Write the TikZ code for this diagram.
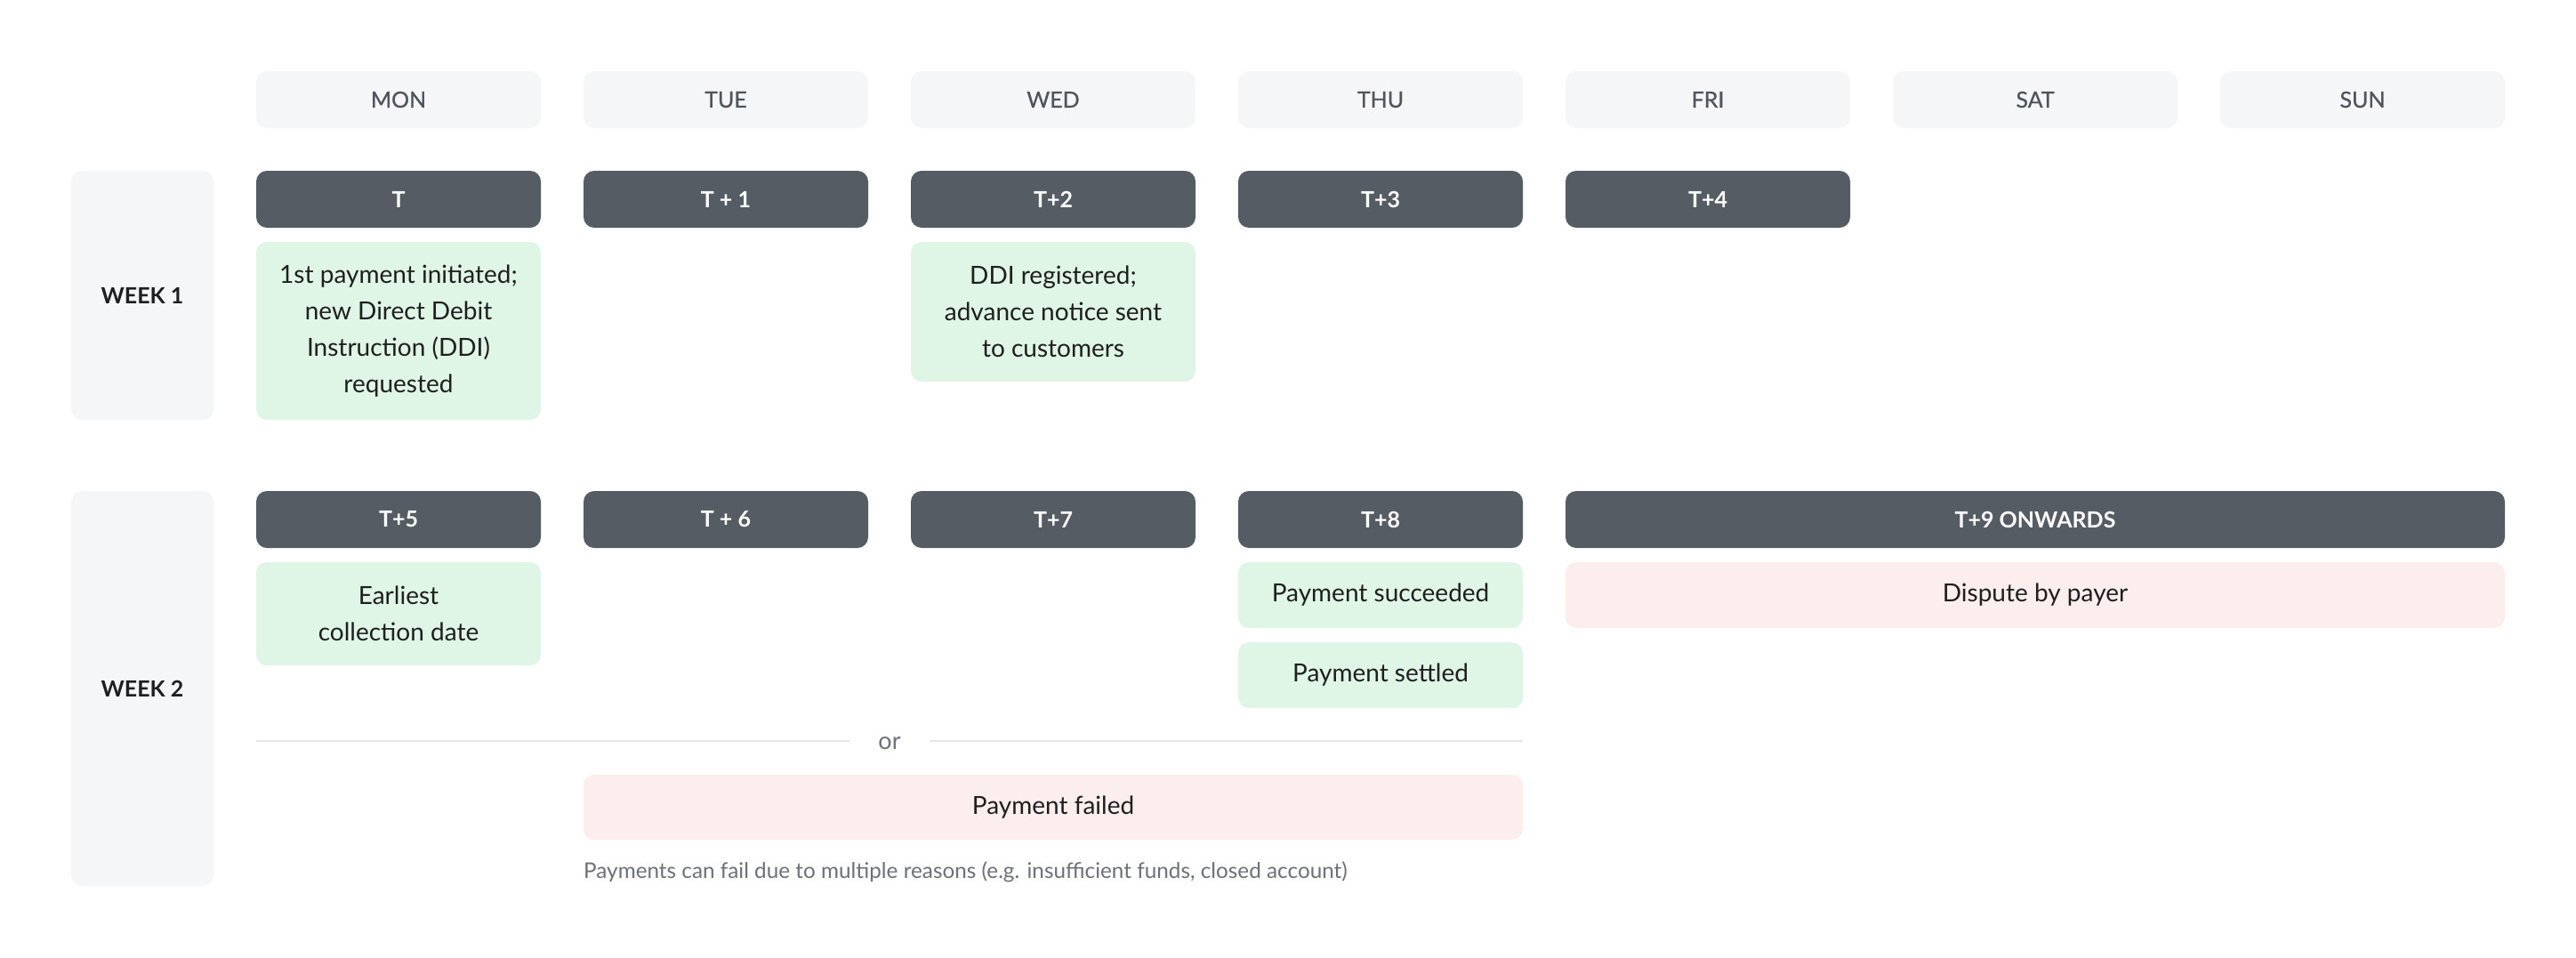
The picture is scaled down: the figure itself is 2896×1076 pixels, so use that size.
\documentclass[tikz,border=0pt]{standalone}
\usepackage{fontspec}
\setmainfont{Lato}
\newfontfamily\medfont[FakeBold=0.7]{Lato}
\definecolor{hdrfill}{HTML}{F5F6F8}
\definecolor{hdrtext}{HTML}{4F555C}
\definecolor{darkfill}{HTML}{555C64}
\definecolor{greenfill}{HTML}{DFF5E6}
\definecolor{pinkfill}{HTML}{FDEEEE}
\definecolor{bodytext}{HTML}{1F1F1F}
\definecolor{graytext}{HTML}{6B7079}
\definecolor{linegray}{HTML}{E6E7EA}
\newcommand{\cellbox}[7]{%
  \node[#6, minimum width={#4-#2}, minimum height={#5-#3}] (#1) at ({(#2+#4)/2},{-(#3+#5)/2}) {#7};%
}
\tikzset{
  base/.style={rounded corners=12pt, inner sep=0pt, align=center, draw=none},
  dayhdr/.style={base, fill=hdrfill, text=hdrtext, font={\medfont\fontsize{25}{30}\selectfont}},
  weeklbl/.style={base, fill=hdrfill, text=bodytext, font={\bfseries\fontsize{25}{30}\selectfont}},
  tday/.style={base, fill=darkfill, text=white, font={\bfseries\fontsize{25}{30}\selectfont}},
  okbox/.style={base, fill=greenfill, text=bodytext, font={\fontsize{28}{41}\selectfont}},
  badbox/.style={base, fill=pinkfill, text=bodytext, font={\fontsize{28}{41}\selectfont}},
  ortext/.style={inner sep=0pt, minimum width=90pt, text=graytext, font={\fontsize{27}{30}\selectfont}},
  note/.style={inner sep=0pt, anchor=west, text=graytext, font={\fontsize{24.3}{29}\selectfont}},
  sepline/.style={draw=linegray, line width=2.5pt}
}
\begin{document}
\begin{tikzpicture}[x=1pt,y=1pt]
\fill[white] (0,0) rectangle (2896,-1076);
\useasboundingbox (0,0) rectangle (2896,-1076);
% day headers
\cellbox{mon}{288}{80}{608}{144}{dayhdr}{MON}
\cellbox{tue}{656}{80}{976}{144}{dayhdr}{TUE}
\cellbox{wed}{1024}{80}{1344}{144}{dayhdr}{WED}
\cellbox{thu}{1392}{80}{1712}{144}{dayhdr}{THU}
\cellbox{fri}{1760}{80}{2080}{144}{dayhdr}{FRI}
\cellbox{sat}{2128}{80}{2448}{144}{dayhdr}{SAT}
\cellbox{sun}{2496}{80}{2816}{144}{dayhdr}{SUN}
% week 1
\cellbox{wk1}{80}{192}{240}{472}{weeklbl}{WEEK 1}
\cellbox{t0}{288}{192}{608}{256}{tday}{T}
\cellbox{t1}{656}{192}{976}{256}{tday}{T + 1}
\cellbox{t2}{1024}{192}{1344}{256}{tday}{T+2}
\cellbox{t3}{1392}{192}{1712}{256}{tday}{T+3}
\cellbox{t4}{1760}{192}{2080}{256}{tday}{T+4}
\cellbox{initiated}{288}{272}{608}{472}{okbox}{1st payment initiated;\\new Direct Debit\\Instruction (DDI)\\requested}
\cellbox{registered}{1024}{272}{1344}{429}{okbox}{DDI registered;\\advance notice sent\\to customers}
% week 2
\cellbox{wk2}{80}{552}{240}{996}{weeklbl}{WEEK 2}
\cellbox{t5}{288}{552}{608}{616}{tday}{T+5}
\cellbox{t6}{656}{552}{976}{616}{tday}{T + 6}
\cellbox{t7}{1024}{552}{1344}{616}{tday}{T+7}
\cellbox{t8}{1392}{552}{1712}{616}{tday}{T+8}
\cellbox{t9}{1760}{552}{2816}{616}{tday}{T+9 ONWARDS}
\cellbox{earliest}{288}{632}{608}{748}{okbox}{Earliest\\collection date}
\cellbox{succeeded}{1392}{632}{1712}{706}{okbox}{Payment succeeded}
\cellbox{settled}{1392}{722}{1712}{796}{okbox}{Payment settled}
\cellbox{dispute}{1760}{632}{2816}{706}{badbox}{Dispute by payer}
% or separator
\node[ortext] (or) at (1000,-836) {or};
\coordinate (lineL) at (288,-833);
\coordinate (lineR) at (1712,-833);
\draw[sepline] (lineL) -- (lineL -| or.west);
\draw[sepline] (lineR -| or.east) -- (lineR);
\cellbox{failed}{656}{871}{1712}{944}{badbox}{Payment failed}
\node[note] (reasons) at (656,-980) {Payments can fail due to multiple reasons (e.g. insufficient funds, closed account)};
\end{tikzpicture}
\end{document}
